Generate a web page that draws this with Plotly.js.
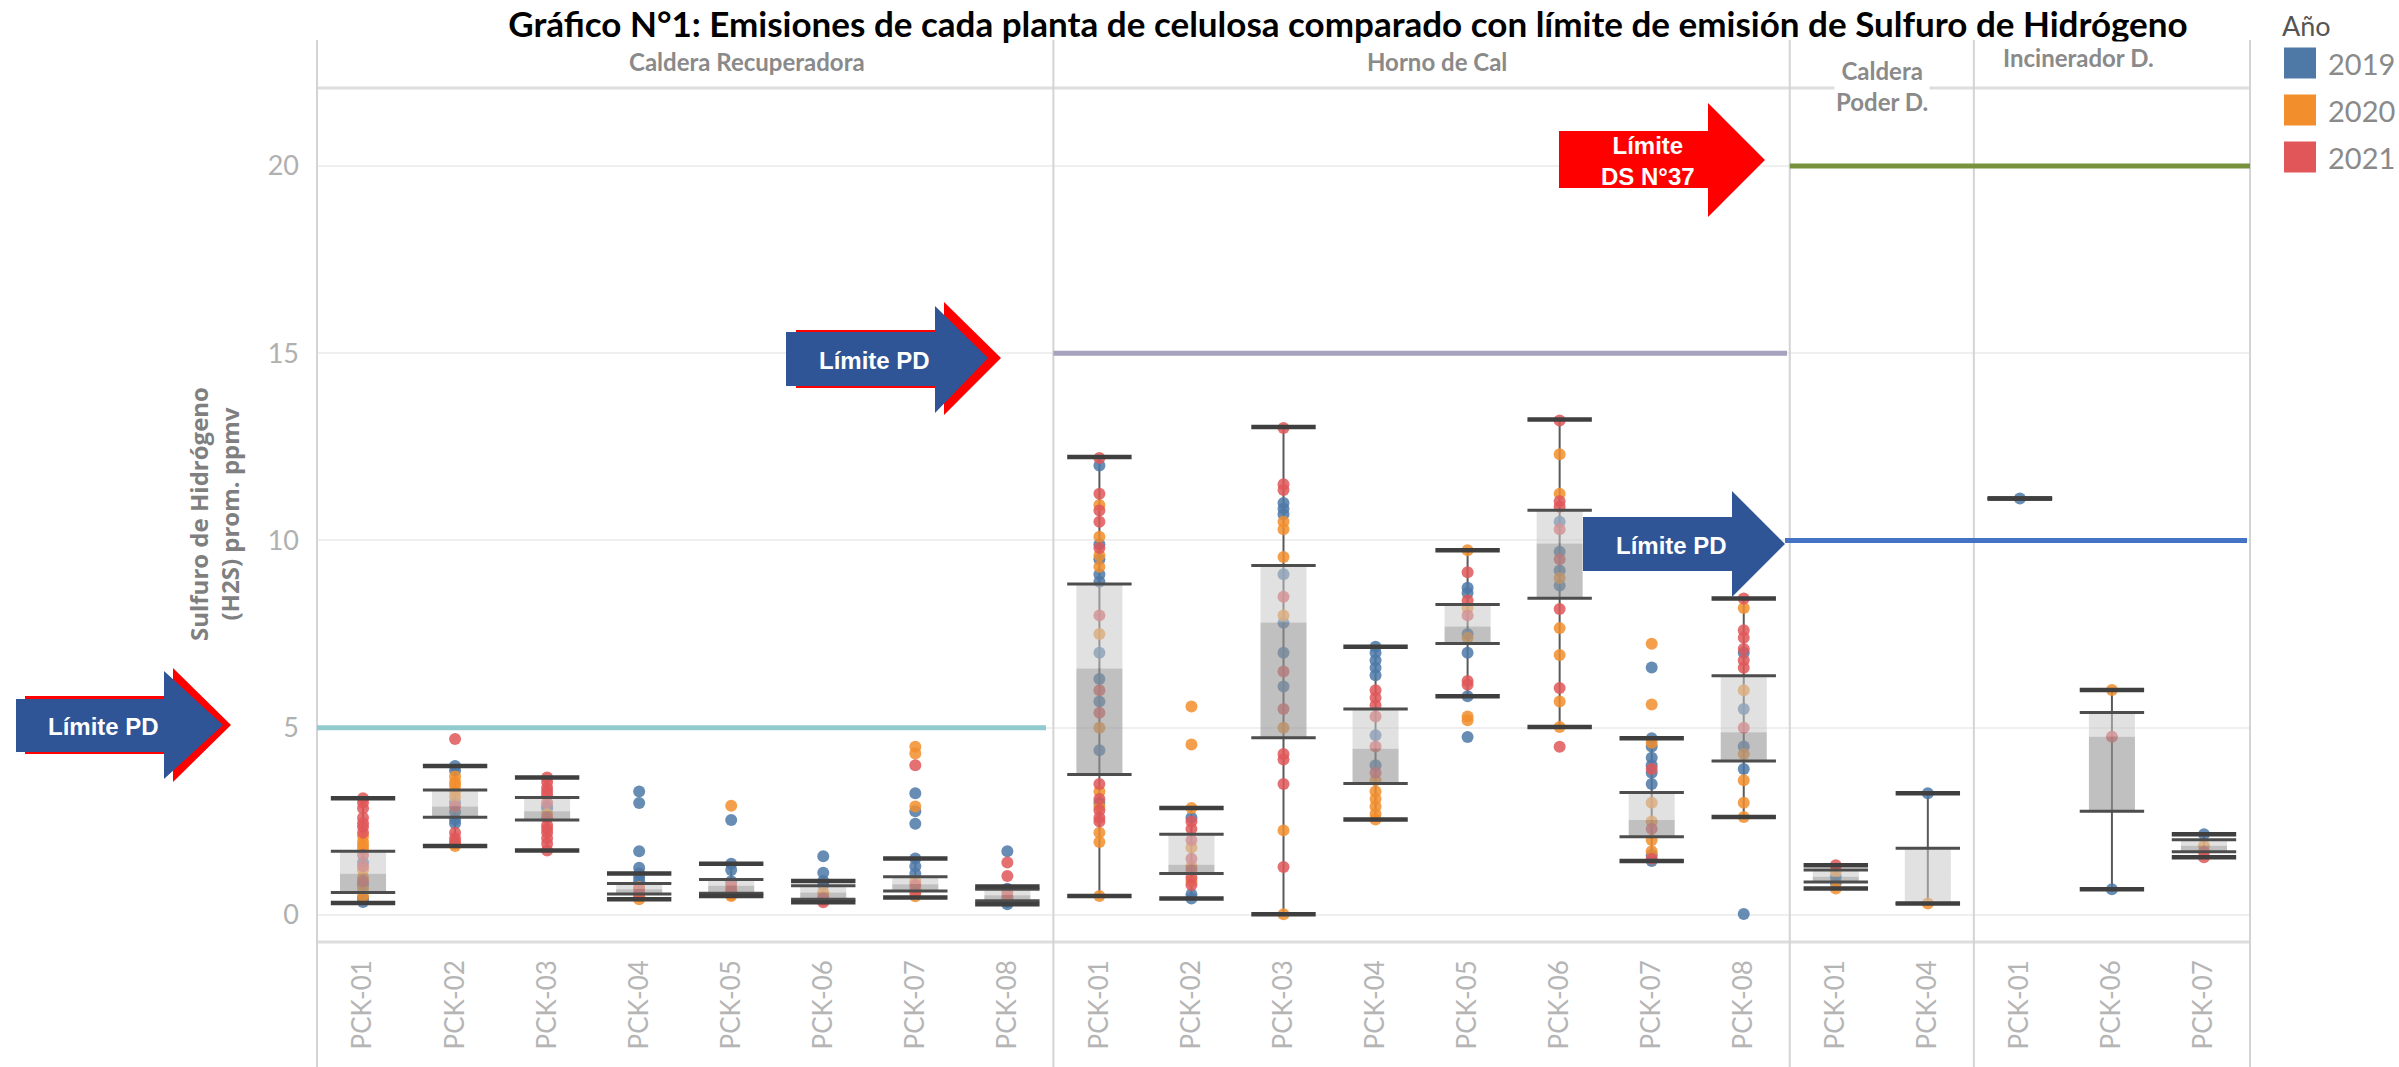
<!DOCTYPE html>
<html><head><meta charset="utf-8">
<script src="https://cdn.plot.ly/plotly-3.0.1.min.js"></script>
<style>html,body{margin:0;padding:0;background:#fff}#chart{width:2399px;height:1067px}</style>
</head><body><div id="chart"></div>
<script>
// ---------------- DATA ----------------
const titleText = 'Gráfico N°1: Emisiones de cada planta de celulosa comparado con límite de emisión de Sulfuro de Hidrógeno';
const panelNames = ['Caldera Recuperadora', 'Horno de Cal', 'Caldera<br>Poder D.', 'Incinerador D.'];
const years = ['2019', '2020', '2021'];
const yearColors = ['#4e79a7', '#f28e2b', '#e15759'];
const limitValues = [5, 15, 20, 10];   // PD Caldera Rec., PD Horno, DS N°37, PD Caldera/Incinerador

// Caldera Recuperadora
const catsCR = ['PCK-01','PCK-02','PCK-03','PCK-04','PCK-05','PCK-06','PCK-07','PCK-08'];
const loCR  = [0.32, 1.84, 1.72, 0.42, 0.51, 0.34, 0.47, 0.29];
const q1CR  = [0.60, 2.61, 2.54, 0.56, 0.58, 0.42, 0.64, 0.38];
const medCR = [1.10, 2.90, 2.77, 0.69, 0.78, 0.60, 0.82, 0.53];
const q3CR  = [1.70, 3.34, 3.14, 0.84, 0.95, 0.78, 1.02, 0.69];
const hiCR  = [3.12, 3.98, 3.67, 1.11, 1.37, 0.91, 1.51, 0.76];
const cr2019 = [[0.35,0.45,0.8,1.4],[3.98,3.85,3.0,2.75,2.55,2.45],[2.9,2.85],[3.3,2.99,1.7,1.26,1.11,1.0,0.9],[2.54,1.37,1.2,0.9],[1.57,1.13,0.91,0.8],[3.25,2.77,2.44,1.51,1.3,1.1],[1.7,0.29,0.35,0.7]];
const cr2020 = [[2.1,1.95,1.85,1.75,1.2,1.0,0.7,0.5],[3.7,3.55,3.45,3.3,3.15,1.9,1.84],[2.7],[0.42,0.5,0.6,0.75],[2.92,0.51,0.55,0.6,0.7],[0.5,0.6],[4.49,4.31,2.9,0.5,0.7,0.9],[0.5]];
const cr2021 = [[3.12,3.0,2.85,2.6,2.45,2.35,2.2,1.6,1.3,0.9],[4.7,2.2,2.05,1.95,2.9],[3.67,3.55,3.4,3.3,3.2,3.0,2.6,2.4,2.3,2.2,2.05,1.9,1.72],[0.55,0.7],[0.65,0.8],[0.34,0.4,0.45],[4.0,0.6,0.8],[1.4,1.04,0.45,0.6]];

// Horno de Cal
const catsHC = ['PCK-01','PCK-02','PCK-03','PCK-04','PCK-05','PCK-06','PCK-07','PCK-08'];
const loHC  = [0.51, 0.44, 0.02, 2.55, 5.84, 5.02, 1.44, 2.62];
const q1HC  = [3.75, 1.11, 4.73, 3.51, 7.25, 8.46, 2.09, 4.11];
const medHC = [6.58, 1.34, 7.81, 4.44, 7.70, 9.92, 2.54, 4.88];
const q3HC  = [8.84, 2.16, 9.33, 5.50, 8.29, 10.81, 3.27, 6.39];
const hiHC  = [12.23, 2.86, 13.03, 7.16, 9.74, 13.23, 4.72, 8.45];
const hc2019 = [[12.0,9.9,9.5,9.1,8.9,7.0,6.3,5.7,4.4,3.0],[2.6,0.44,0.55],[11.0,10.85,10.7,9.1,7.8,7.0,6.1],[7.16,7.0,6.8,6.6,6.4,4.8,4.0],[8.74,8.6,7.5,7.0,5.84,4.75],[10.5,9.7,9.2,8.8],[6.61,4.72,4.5,4.2,4.0,3.8,3.5,1.6,1.44],[7.0,5.5,4.5,3.9,0.03]];
const hc2020 = [[10.95,10.1,9.6,9.3,7.5,5.0,3.3,2.9,2.2,1.95,0.51],[5.57,4.55,2.86,1.8,1.3,0.9],[10.5,10.3,9.56,8.0,5.0,2.26,0.02],[3.6,3.3,3.1,2.9,2.7,2.55],[9.74,8.2,7.4,5.3,5.2],[12.3,11.25,9.0,7.66,6.94,5.7,5.02],[7.24,5.62,4.6,3.0,2.5,2.0,1.7],[8.2,6.0,4.3,3.6,3.0,2.62]];
const hc2021 = [[12.2,11.25,10.8,10.5,9.8,8.0,6.0,5.4,3.5,3.1,2.8,2.6,2.5],[2.5,2.3,2.0,1.5,1.2,1.0,0.8],[13.0,11.5,11.35,8.5,6.5,5.5,4.3,4.15,3.5,1.28],[6.0,5.8,5.6,5.3,4.5,3.8],[9.15,8.4,8.0,6.25,6.15],[13.2,11.05,10.9,10.3,9.5,8.17,6.06,4.49],[3.9,2.3,1.5],[8.45,7.6,7.4,7.1,6.8,6.6,5.0]];

// Caldera Poder D.
const catsCP = ['PCK-01','PCK-04'];
const loCP  = [0.71, 0.31];
const q1CP  = [0.88, 0.31];
const medCP = [1.02, 0.31];
const q3CP  = [1.20, 1.78];
const hiCP  = [1.33, 3.25];
const cp2019 = [[1.02,0.86],[3.25]];
const cp2020 = [[1.17,0.71],[0.31]];
const cp2021 = [[1.33],[]];

// Incinerador D.
const catsID = ['PCK-01','PCK-06','PCK-07'];
const loID  = [11.12, 0.69, 1.54];
const q1ID  = [11.12, 2.77, 1.69];
const medID = [11.12, 4.76, 1.85];
const q3ID  = [11.12, 5.41, 2.01];
const hiID  = [11.12, 6.01, 2.16];
const id2019 = [[11.12],[0.69],[2.16]];
const id2020 = [[],[6.01],[1.85]];
const id2021 = [[],[4.76],[1.54,1.69]];

// ---------------- BUILD ----------------
const panels = [
  {cats: catsCR, lo: loCR, q1: q1CR, med: medCR, q3: q3CR, hi: hiCR, pts: [cr2019, cr2020, cr2021]},
  {cats: catsHC, lo: loHC, q1: q1HC, med: medHC, q3: q3HC, hi: hiHC, pts: [hc2019, hc2020, hc2021]},
  {cats: catsCP, lo: loCP, q1: q1CP, med: medCP, q3: q3CP, hi: hiCP, pts: [cp2019, cp2020, cp2021]},
  {cats: catsID, lo: loID, q1: q1ID, med: medID, q3: q3ID, hi: hiID, pts: [id2019, id2020, id2021]}
];

const W = 2399, H = 1067, PL = 317, PR = 2250, PT = 88, PB = 942;
const px = x => (x - PL) / (PR - PL);
const py = y => (PB - y) / (PB - PT);

const totalCats = panels.reduce((s, p) => s + p.cats.length, 0);
let cum = 0;
const domains = panels.map(p => { const d = [cum / totalCats, (cum + p.cats.length) / totalCats]; cum += p.cats.length; return d; });

const traces = [];
const BOXW = 46;
const HALF = 0.25;
panels.forEach((p, k) => {
  const xa = k === 0 ? 'x' : 'x' + (k + 1);
  const n = p.cats.length;
  // whiskers
  const wx = [], wy = [];
  for (let i = 0; i < n; i++) { wx.push(i, i, null); wy.push(p.lo[i], p.hi[i], null); }
  traces.push({type: 'scatter', mode: 'lines', x: wx, y: wy, xaxis: xa, yaxis: 'y',
    line: {color: '#5a5a5a', width: 2}, hoverinfo: 'skip', showlegend: false});
  // points by year
  p.pts.forEach((yearArr, yi) => {
    const xs = [], ys = [];
    yearArr.forEach((vals, i) => vals.forEach(v => { xs.push(i); ys.push(v); }));
    traces.push({type: 'scatter', mode: 'markers', x: xs, y: ys, xaxis: xa, yaxis: 'y',
      name: years[yi], marker: {size: 12, color: yearColors[yi], opacity: 0.85},
      showlegend: false, hovertemplate: '%{y}<extra>' + years[yi] + '</extra>'});
  });
  // box fills (upper light: median->Q3, lower dark: Q1->median)
  const ux = [], uy = [], lx = [], ly = [];
  for (let i = 0; i < n; i++) {
    ux.push(i - HALF, i + HALF, i + HALF, i - HALF, i - HALF, null);
    uy.push(p.med[i], p.med[i], p.q3[i], p.q3[i], p.med[i], null);
    lx.push(i - HALF, i + HALF, i + HALF, i - HALF, i - HALF, null);
    ly.push(p.q1[i], p.q1[i], p.med[i], p.med[i], p.q1[i], null);
  }
  traces.push({type: 'scatter', mode: 'lines', x: ux, y: uy, xaxis: xa, yaxis: 'y', fill: 'toself',
    fillcolor: 'rgba(200,200,200,0.55)', line: {width: 0, color: 'rgba(0,0,0,0)'}, hoverinfo: 'skip', showlegend: false});
  traces.push({type: 'scatter', mode: 'lines', x: lx, y: ly, xaxis: xa, yaxis: 'y', fill: 'toself',
    fillcolor: 'rgba(150,150,150,0.6)', line: {width: 0, color: 'rgba(0,0,0,0)'}, hoverinfo: 'skip', showlegend: false});
  // quartile lines
  const qx = [], qy = [];
  for (let i = 0; i < n; i++) { qx.push(i, i); qy.push(p.q1[i], p.q3[i]); }
  traces.push({type: 'scatter', mode: 'markers', x: qx, y: qy, xaxis: xa, yaxis: 'y',
    marker: {symbol: 'line-ew', size: BOXW, line: {width: 3, color: '#4d4d4d'}}, hoverinfo: 'skip', showlegend: false});
  // whisker caps
  const cx = [], cy = [];
  for (let i = 0; i < n; i++) { cx.push(i, i); cy.push(p.lo[i], p.hi[i]); }
  traces.push({type: 'scatter', mode: 'markers', x: cx, y: cy, xaxis: xa, yaxis: 'y',
    marker: {symbol: 'line-ew', size: BOXW, line: {width: 4.5, color: '#3f3f3f'}}, hoverinfo: 'skip', showlegend: false});
});

const layout = {
  width: W, height: H,
  margin: {l: PL, r: W - PR, t: PT, b: H - PB, pad: 0},
  paper_bgcolor: '#ffffff', plot_bgcolor: '#ffffff',
  showlegend: false,
  font: {family: 'Lato, sans-serif', color: '#aaaaaa'},
  title: {text: '<b>' + titleText + '</b>', font: {family: 'Lato, sans-serif', size: 35, color: '#000000'},
    x: 1348 / W, xanchor: 'center', xref: 'container', y: 1 - 12 / H, yanchor: 'top', yref: 'container', pad: {t: 0, b: 0}},
  yaxis: {range: [-0.72, 22.08], tickvals: [0, 5, 10, 15, 20], showgrid: true, gridcolor: '#efefef', gridwidth: 2,
    zeroline: false, showline: false, ticks: '', tickfont: {family: 'Lato, sans-serif', size: 27, color: '#b0b0b0'},
    ticklabelstandoff: 17, fixedrange: true},
  shapes: [], annotations: []
};
panels.forEach((p, k) => {
  const key = k === 0 ? 'xaxis' : 'xaxis' + (k + 1);
  layout[key] = {domain: domains[k], anchor: 'y', range: [-0.5, p.cats.length - 0.5],
    tickvals: p.cats.map((c, i) => i), ticktext: p.cats, tickangle: -90,
    showgrid: false, zeroline: false, showline: false, ticks: '',
    tickfont: {family: 'Lato, sans-serif', size: 26, color: '#b5b5b5'}, ticklabelstandoff: 12, fixedrange: true};
});

const S = layout.shapes, A = layout.annotations;
// zero dotted line
S.push({type: 'line', xref: 'paper', yref: 'y', x0: 0, x1: 1, y0: 0, y1: 0, line: {color: '#d2d2d2', width: 2, dash: 'dot'}, layer: 'below'});
// header bottom line and axis line
S.push({type: 'line', xref: 'paper', yref: 'paper', x0: 0, x1: 1, y0: 1, y1: 1, line: {color: '#dddddd', width: 3}});
S.push({type: 'line', xref: 'paper', yref: 'paper', x0: 0, x1: 1, y0: 0, y1: 0, line: {color: '#dddddd', width: 3}});
// panel dividers
const divX = [0].concat(domains.map(d => d[1]));
divX.forEach(x => S.push({type: 'line', xref: 'paper', yref: 'paper', x0: x, x1: x, y0: py(40), y1: py(H + 5),
  line: {color: '#d4d4d4', width: 2}}));
// limit lines
const limitSpans = [[px(PL), px(1046)], [domains[1][0], px(1787)], [domains[2][0], 1], [px(1785), px(2247)]];
const limitColors = ['#92cbcd', '#a7a2bd', '#76923c', '#4472c4'];
limitValues.forEach((v, i) => S.push({type: 'line', xref: 'paper', yref: 'y', x0: limitSpans[i][0], x1: limitSpans[i][1],
  y0: v, y1: v, line: {color: limitColors[i], width: 5}}));

// arrows
function arrowPath(bx0, bx1, by0, by1, hy0, hy1, tx, ty) {
  const pts = [[bx0, by0], [bx1, by0], [bx1, hy0], [tx, ty], [bx1, hy1], [bx1, by1], [bx0, by1]];
  return 'M' + pts.map(q => px(q[0]).toFixed(5) + ',' + py(q[1]).toFixed(5)).join('L') + 'Z';
}
function addArrow(path, color) {
  S.push({type: 'path', xref: 'paper', yref: 'paper', path: path, fillcolor: color, line: {width: 0, color: color}});
}
const RED = '#ff0000', BLUE = '#2f5597';
// left arrow (PD 5)
addArrow(arrowPath(25, 173, 696, 754, 668, 782, 231, 725), RED);
addArrow(arrowPath(16, 164, 699, 752, 671, 779, 223, 725), BLUE);
// middle arrow (PD 15)
addArrow(arrowPath(796, 944, 330, 388, 302, 415, 1001, 358), RED);
addArrow(arrowPath(786, 935, 332, 386, 306, 413, 988, 358), BLUE);
// DS N°37 arrow
addArrow(arrowPath(1559, 1708, 131, 188, 103, 217, 1765, 160), RED);
// right arrow (PD 10)
addArrow(arrowPath(1583, 1732, 517, 571, 491, 597, 1785, 544), BLUE);

const arrowFont = {family: 'Liberation Sans, Arial, sans-serif', size: 24, color: '#ffffff'};
function ann(text, x, y, font, extra) {
  A.push(Object.assign({text: text, xref: 'paper', yref: 'paper', x: px(x), y: py(y), xanchor: 'center', yanchor: 'middle',
    showarrow: false, font: font}, extra || {}));
}
ann('<b>Límite PD</b>', 103, 726, arrowFont);
ann('<b>Límite PD</b>', 874, 360, arrowFont);
ann('<b>Límite PD</b>', 1671, 545, arrowFont);
ann('<b>Límite<br>DS N°37</b>', 1648, 161, arrowFont);

// panel headers
const hdrFont = {family: 'Lato, sans-serif', size: 24, color: '#8a8a8a'};
const hdrPos = [[747, 61], [1437, 61], [1882, 86], [2078, 58]];
panelNames.forEach((t, i) => ann('<b>' + t + '</b>', hdrPos[i][0], hdrPos[i][1], hdrFont, {bgcolor: '#ffffff'}));

// y axis title
A.push({text: '<b>Sulfuro de Hidrógeno<br>(H2S) prom. ppmv</b>', xref: 'paper', yref: 'paper', x: px(214), y: py(514),
  xanchor: 'center', yanchor: 'middle', textangle: -90, showarrow: false,
  font: {family: 'Open Sans, sans-serif', size: 24, color: '#7f7f7f'}});

// legend
ann('Año', 2280, 25, {family: 'Lato, sans-serif', size: 27, color: '#555555'}, {xanchor: 'left'});
const legY = [63, 110, 157];
years.forEach((yr, i) => {
  S.push({type: 'rect', xref: 'paper', yref: 'paper', x0: px(2284), x1: px(2316), y0: py(legY[i] - 15.5), y1: py(legY[i] + 15.5),
    fillcolor: yearColors[i], line: {width: 0}});
  ann(yr, 2326, legY[i], {family: 'Lato, sans-serif', size: 29, color: '#8a8a8a'}, {xanchor: 'left'});
});

Plotly.newPlot('chart', traces, layout, {displayModeBar: false, staticPlot: true});
</script></body></html>
